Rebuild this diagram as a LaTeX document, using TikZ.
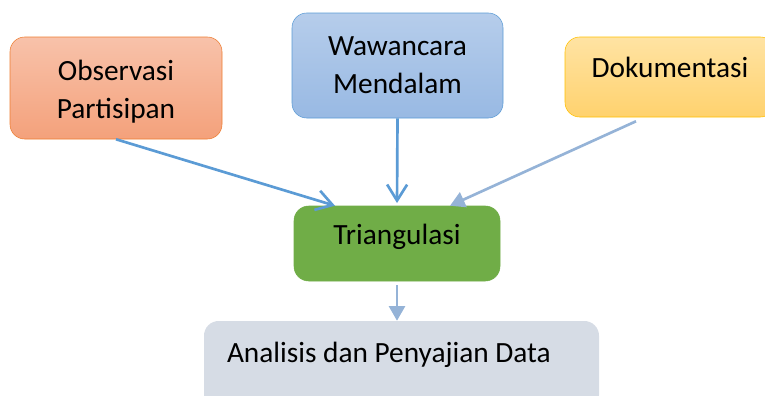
\documentclass[tikz,border=0pt]{standalone}
\usepackage{fontspec}
\setmainfont{Carlito}
\usetikzlibrary{arrows.meta,positioning}
\definecolor{obsTop}{HTML}{F8C2AA}
\definecolor{obsBot}{HTML}{F4A17B}
\definecolor{obsLine}{HTML}{ED7D31}
\definecolor{wawTop}{HTML}{B6CDEB}
\definecolor{wawBot}{HTML}{98B9E3}
\definecolor{wawLine}{HTML}{5B9BD5}
\definecolor{dokTop}{HTML}{FFE3A3}
\definecolor{dokBot}{HTML}{FFD26E}
\definecolor{dokLine}{HTML}{FFC000}
\definecolor{triFill}{HTML}{70AD47}
\definecolor{anaFill}{HTML}{D6DCE5}
\definecolor{arrDark}{HTML}{5B9BD5}
\definecolor{arrLight}{HTML}{95B3D7}

\begin{document}
\begin{tikzpicture}[x=0.75pt,y=-0.75pt,
  box/.style={rounded corners=11pt,align=center,inner sep=0pt,
    font=\fontsize{22}{28.5}\selectfont},
  link/.style={line width=2pt,arrDark,-{Straight Barb[length=12pt,width=15pt]}},
  feed/.style={line width=2pt,arrLight,-{Triangle[length=11pt,width=12pt]}}]
  \clip (0,0) rectangle (765,396);

  % sources
  \node[box,draw=obsLine,top color=obsTop,bottom color=obsBot,
    minimum width=159pt,minimum height=76.5pt] (obs) at (116,88)
    {\rule{0pt}{21pt}Observasi\\Partisipan};
  \node[box,draw=wawLine,top color=wawTop,bottom color=wawBot,
    minimum width=158.25pt,minimum height=78.75pt] (waw) at (397.5,65.5)
    {Wawancara\\Mendalam};
  \node[box,draw=dokLine,top color=dokTop,bottom color=dokBot,
    minimum width=157.5pt,minimum height=60pt,text height=14pt,text depth=14pt]
    (dok) at (670,77) {Dokumentasi};

  % triangulation and result
  \node[box,draw=triFill,fill=triFill,minimum width=154.5pt,minimum height=56.25pt,
    text height=14pt,text depth=11.8pt] (tri) at (397,243.5) {Triangulasi};
  \node[box,fill=anaFill,minimum width=296.25pt,minimum height=66.75pt,
    text width=261.75pt,align=flush left,text height=14pt,text depth=19.2pt]
    (ana) at (401.5,365.5) {Analisis dan Penyajian Data};

  % arrows
  \draw[link] (obs.south) -- ([xshift=-46.5pt]tri.north);
  \draw[link,shorten >=2pt] (waw.south) -- (tri.north);
  \draw[feed] ([xshift=-25.5pt,yshift=-3pt]dok.south) -- ([xshift=39.75pt]tri.north);
  \draw[feed,shorten <=3pt] (tri.south) -- (tri.south |- ana.north);
\end{tikzpicture}
\end{document}
